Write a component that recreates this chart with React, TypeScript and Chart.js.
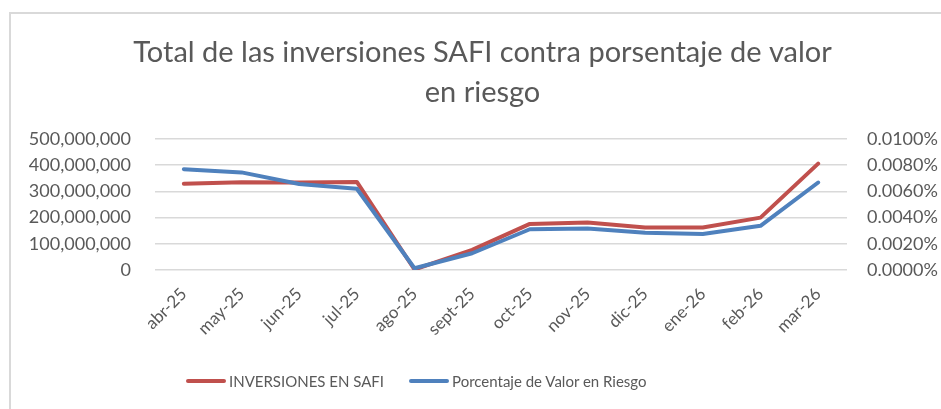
import React, { useEffect, useRef } from 'react';
import { Chart, registerables } from 'chart.js';

Chart.register(...registerables);

const categories = ['abr-25', 'may-25', 'jun-25', 'jul-25', 'ago-25', 'sept-25', 'oct-25', 'nov-25', 'dic-25', 'ene-26', 'feb-26', 'mar-26'];
const inversionesSafi = [329000000, 335000000, 334000000, 336000000, 2000000, 77000000, 176000000, 181000000, 162000000, 162000000, 200000000, 406000000];
const porcentajeRiesgo = [0.0077, 0.00745, 0.00656, 0.0062, 0.00013, 0.00128, 0.00311, 0.00316, 0.00285, 0.00275, 0.00337, 0.00668];
const titleLines = ['Total de las inversiones SAFI contra porsentaje de valor', 'en riesgo'];
const seriesNames = ['INVERSIONES EN SAFI', 'Porcentaje de Valor en Riesgo'];
const seriesColors = ['#C0504D', '#4F81BD'];
const leftMax = 500000000;
const leftStep = 100000000;
const rightMax = 0.01;
const rightStep = 0.002;

const TEXT = '#595959';
const FONT = 'Lato';

export default function App() {
  const ref = useRef<HTMLCanvasElement | null>(null);

  useEffect(() => {
    document.documentElement.style.overflow = 'hidden';
    const canvas = ref.current;
    if (!canvas) return;
    const chart = new Chart(canvas, {
      type: 'line',
      data: {
        labels: categories,
        datasets: [
          {
            label: seriesNames[0],
            data: inversionesSafi,
            yAxisID: 'y',
            borderColor: seriesColors[0],
            backgroundColor: seriesColors[0],
            borderWidth: 4,
            pointRadius: 0,
            borderJoinStyle: 'round',
            borderCapStyle: 'round',
            tension: 0,
            order: 1,
          },
          {
            label: seriesNames[1],
            data: porcentajeRiesgo,
            yAxisID: 'y1',
            borderColor: seriesColors[1],
            backgroundColor: seriesColors[1],
            borderWidth: 4,
            pointRadius: 0,
            borderJoinStyle: 'round',
            borderCapStyle: 'round',
            tension: 0,
            order: 0,
          },
        ],
      },
      options: {
        animation: false,
        responsive: false,
        maintainAspectRatio: false,
        layout: { padding: { left: 27, right: 3, top: 0, bottom: 59 } },
        plugins: {
          title: {
            display: true,
            text: titleLines,
            color: TEXT,
            font: { family: FONT, size: 29, weight: 'normal', lineHeight: 40 / 29 },
            padding: { top: 33, bottom: 26 },
          },
          legend: { display: false },
          tooltip: { enabled: false },
        },
        scales: {
          x: {
            offset: true,
            grid: { display: false, drawTicks: false },
            border: { display: false },
            ticks: {
              color: TEXT,
              font: { family: FONT, size: 17 },
              minRotation: 45,
              maxRotation: 45,
              padding: 14,
            },
            afterFit: (scale: any) => {
              scale.paddingLeft = 0;
              scale.paddingRight = 0;
              scale.height = 80;
            },
          },
          y: {
            position: 'left',
            min: 0,
            max: leftMax,
            grid: { color: '#D9D9D9', lineWidth: 1.5, drawTicks: false },
            border: { display: false },
            ticks: {
              stepSize: leftStep,
              color: TEXT,
              font: { family: FONT, size: 18 },
              padding: 24,
              callback: (v: any) => Number(v).toLocaleString('en-US'),
            },
            afterFit: (scale: any) => {
              scale.width = 128;
            },
          },
          y1: {
            position: 'right',
            min: 0,
            max: rightMax,
            grid: { display: false, drawTicks: false },
            border: { display: false },
            ticks: {
              stepSize: rightStep,
              color: TEXT,
              font: { family: FONT, size: 18 },
              padding: 20,
              callback: (v: any) => Number(v).toFixed(4) + '%',
            },
            afterFit: (scale: any) => {
              scale.width = 91;
            },
          },
        },
      },
    });
    return () => chart.destroy();
  }, []);

  return (
    <div style={{ position: 'fixed', left: 0, top: 0, width: 941, height: 409, background: '#fff' }}>
      <div
        style={{
          position: 'absolute',
          left: 9,
          top: 12,
          width: 940,
          height: 400,
          borderLeft: '2px solid #D9D9D9',
          borderTop: '2px solid #D9D9D9',
          boxSizing: 'border-box',
        }}
      />
      <canvas ref={ref} width={941} height={409} style={{ position: 'absolute', left: 0, top: 0 }} />
      <div
        style={{
          position: 'absolute',
          left: 186,
          top: 370,
          height: 22,
          display: 'flex',
          alignItems: 'center',
          fontFamily: FONT,
          fontSize: 15,
          color: TEXT,
          whiteSpace: 'nowrap',
        }}
      >
        {seriesNames.map((name, i) => (
          <div key={name} style={{ display: 'flex', alignItems: 'center', marginRight: i === 0 ? 25 : 0 }}>
            <span
              style={{
                display: 'inline-block',
                width: 40,
                height: 4,
                borderRadius: 2,
                background: seriesColors[i],
                marginRight: 3,
              }}
            />
            <span>{name}</span>
          </div>
        ))}
      </div>
    </div>
  );
}
